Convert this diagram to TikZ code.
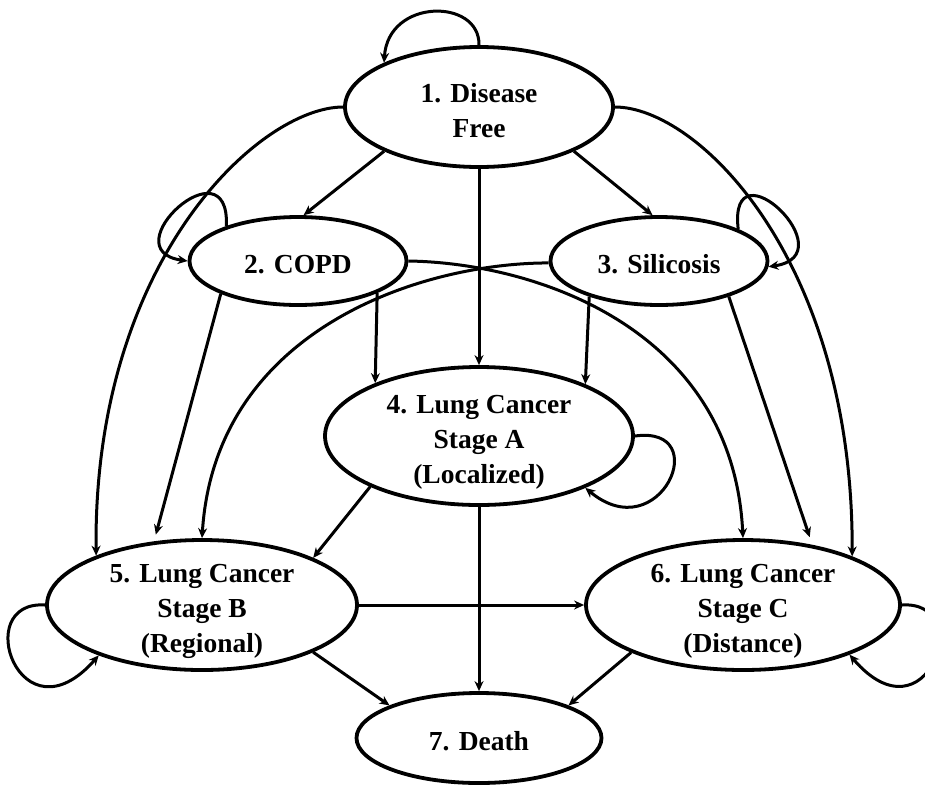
\documentclass[tikz,border=0pt]{standalone}
\usepackage{fontspec}
\setmainfont{Liberation Serif}
\usetikzlibrary{arrows.meta,shapes.geometric}
\newcommand\nodetxt[1]{\raisebox{-12pt}[0pt][0pt]{\begin{tabular}{@{}c@{}}#1\end{tabular}}}
\begin{document}
\begin{tikzpicture}[x=1pt,y=-1pt,
  st/.style={ellipse, draw, line width=3.8pt, inner sep=0pt,
    font=\fontsize{27.5}{35}\selectfont\bfseries},
  arr/.style={line width=3pt, -{Stealth[length=10pt,width=9pt]}}]
\useasboundingbox (0,0) rectangle (925,785);
\node[st, minimum width=268pt, minimum height=120pt] (n1) at (479,107) {\nodetxt{1. Disease\\Free}};
\node[st, minimum width=217pt, minimum height=88pt] (n2) at (298,261) {\nodetxt{2. COPD}};
\node[st, minimum width=217pt, minimum height=88pt] (n3) at (659,261) {\nodetxt{3. Silicosis}};
\node[st, minimum width=308pt, minimum height=138pt] (n4) at (479,436) {\nodetxt{4. Lung Cancer\\Stage A\\(Localized)}};
\node[st, minimum width=310pt, minimum height=130pt] (n5) at (202,605) {\nodetxt{5. Lung Cancer\\Stage B\\(Regional)}};
\node[st, minimum width=314pt, minimum height=130pt] (n6) at (743,605) {\nodetxt{6. Lung Cancer\\Stage C\\(Distance)}};
\node[st, minimum width=245pt, minimum height=90pt] (n7) at (479,738) {\nodetxt{7. Death}};

\draw[arr] (n1.90) .. controls (480,-2) and (388,-2) .. (n1.155);
\draw[arr] (n1.205) -- (n2.83);
\draw[arr] (n1.335) -- (n3.98);
\draw[arr] (n1.270) -- (n4.90);
\draw[arr] (n1.180) .. controls (260,107) and (93,260) .. (n5.155);
\draw[arr] (n1.0) .. controls (698,107) and (853,260) .. (n6.24);
\draw[arr] (n2.154) .. controls (230,140) and (110,250) .. (n2.180);
\draw[arr] (n3.22) .. controls (728,140) and (848,255) .. (n3.357);
\draw[arr] (n2.338) -- (n4.153);
\draw[arr] (n3.207) -- (n4.26);
\draw[arr, shorten >=7pt] (n2.203) -- (n5.127);
\draw[arr, shorten >=8pt] (n3.333) -- (n6.41);
\draw[arr] (n3.181) .. controls (420,263) and (215,330) .. (n5.90);
\draw[arr] (n2.0) .. controls (538,263) and (733,330) .. (n6.90);
\draw[arr] (n4.0) .. controls (715,425) and (660,550) .. (n4.334);
\draw[arr] (n4.205) -- (n5.23);
\draw[arr] (n4.270) -- (n7.90);
\draw[arr] (n5.0) -- (n6.180);
\draw[arr] (n5.337) -- (n7.160);
\draw[arr] (n6.203) -- (n7.20);
\draw[arr] (n5.180) .. controls (-30,600) and (20,745) .. (n5.206);
\draw[arr] (n6.0) .. controls (977,600) and (927,745) .. (n6.335);
\end{tikzpicture}
\end{document}
